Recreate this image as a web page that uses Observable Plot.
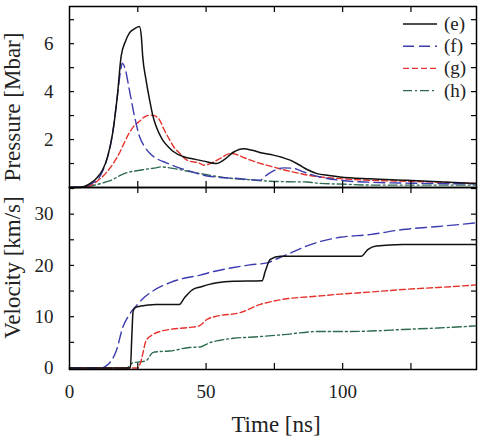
<!DOCTYPE html>
<html>
<head>
<meta charset="utf-8">
<script src="https://cdn.jsdelivr.net/npm/d3@7"></script>
<script src="https://cdn.jsdelivr.net/npm/@observablehq/plot@0.6"></script>
</head>
<body style="margin:0;background:#fff">
<div id="wrap" style="position:relative;width:480px;height:438px;background:#fff;font-family:'Liberation Serif',serif">
  <div id="top" style="position:absolute;left:0;top:0"></div>
  <div id="bot" style="position:absolute;left:0;top:181px"></div>
  <div id="legend" style="position:absolute;left:0;top:0"></div>
</div>
<script>
// ---------- data ----------
const seriesNames = ["(e)", "(f)", "(g)", "(h)"];
const seriesColors = ["#111111", "#3c3cb0", "#e6322b", "#2e6b4e"];
const seriesDash = [null, "11,5", "6,3", "9,3,2,3"];
const seriesWidth = [1.5, 1.4, 1.4, 1.4];

// Pressure [Mbar] vs time [ns]
const pTimeE = [0,3.7,8,10,12.2,14,15.8,17.5,18.9,20.5,21.9,23.5,25.6,26.3,26.8,28,29.3,30.5,31.7,34,36.6,38,41.8,45,49.1,54,56.4,60.1,63.7,67,70,74.6,78,80.8,84,87,90.6,95,99,110,123.5,135,148.9];
const pressE = [0,0,0.2,0.4,0.75,1.3,2.27,3.8,5.47,6.1,6.44,6.6,6.72,6.3,5.47,4.5,3.67,3.0,2.55,2.0,1.65,1.5,1.28,1.2,1.1,1.0,1.14,1.48,1.62,1.55,1.45,1.35,1.25,1.14,0.95,0.75,0.58,0.5,0.44,0.36,0.3,0.24,0.17];
const pTimeF = [0,5,10,12.2,14,15.8,17.5,18.9,19.3,20.5,21.9,23.8,25.6,27.5,29.3,32,35.4,40.2,45,49.1,55,62.5,66.2,69.9,71.1,74,78.4,82,85.6,91.8,99,110,125,148.9];
const pressF = [0,0.05,0.3,0.7,1.3,2.27,3.8,5.0,5.19,4.9,4.08,2.97,2.14,1.7,1.44,1.2,1.03,0.82,0.65,0.51,0.42,0.37,0.33,0.3,0.42,0.65,0.82,0.8,0.65,0.44,0.3,0.22,0.18,0.15];
const pTimeG = [0,5,8,10,13.4,16,18.3,20,21.9,23.5,25.6,27.5,29.6,31,32.9,34.5,36.6,38.2,40.2,43,47.9,49.1,52.8,55,58.9,61,63.8,68,73.5,78,83.3,87,91.8,99,110,123.5,148.9];
const pressG = [0,0.02,0.1,0.25,0.61,1.0,1.44,1.85,2.28,2.55,2.76,2.95,3.02,3.0,2.83,2.45,2.0,1.69,1.44,1.14,1.0,0.93,1.07,1.2,1.42,1.38,1.25,1.07,0.89,0.75,0.61,0.52,0.44,0.37,0.3,0.26,0.17];
const pTimeH = [0,5,10,13,15.8,18,20.7,23.5,26.8,29,31.7,33.3,36.6,40.2,44,47.9,53,60,66,73.5,80,86.9,91.8,100,111,125,148.9];
const pressH = [0,0.02,0.12,0.22,0.33,0.47,0.61,0.68,0.74,0.78,0.82,0.86,0.82,0.75,0.66,0.58,0.48,0.37,0.32,0.26,0.24,0.23,0.17,0.14,0.1,0.1,0.1];

// Velocity [km/s] vs time [ns]
const vTimeE = [0,22.3,22.8,23.3,24.2,26.2,31.6,40.2,42.1,45.1,48,51.2,54,60,70.5,71.7,73.5,77.2,85,99,106.8,109.2,112.3,122,135,148.9];
const velE = [0,0,6,11.1,11.8,12.1,12.4,12.4,13.7,15.3,15.8,16.3,16.6,16.9,17.0,18.9,21.2,21.8,21.8,21.8,21.8,23.1,23.8,24.1,24.1,24.1];
const vTimeF = [0,12,13.4,15,17.1,19.5,21.9,24.4,27,30.5,36.6,42.7,47.9,51.2,60.1,66,72.3,76,79.6,86.9,92,99.1,109.8,122,135,148.9];
const velF = [0,0,0.4,1.2,3.3,7.9,10.4,12.1,13.6,15.0,16.6,17.6,18.1,18.6,19.6,20.1,20.5,21.3,22.1,23.8,24.7,25.5,26.0,27.0,27.6,28.3];
const vTimeG = [0,25,26,26.8,28,30.5,33,36.6,43.9,47.5,50.4,54,62.5,69.9,78.4,90.6,99.1,110,122,135,148.9];
const velG = [0,0,1,2.7,5.3,6.5,7.1,7.5,7.9,8.2,9.5,10.1,10.8,12.4,13.4,14.0,14.4,14.8,15.3,15.7,16.2];
const vTimeH = [0,21,23.2,26,28,30.5,33,36.6,43.9,47.9,51.2,55.2,60,66.2,78.4,90.6,99.1,110,122,135,148.9];
const velH = [0,0,1.0,1.2,1.4,3.0,3.2,3.3,4.0,4.1,4.9,5.4,5.8,6.0,6.5,7.1,7.1,7.2,7.5,7.8,8.2];

const xTickLabels = [0, 50, 100];
const xMinorTicks = [25, 50, 75, 100, 125];
const pTickLabels = [2, 4, 6];
const pMinorTicks = [1, 2, 3, 4, 5, 6, 7];
const vTickLabels = [0, 10, 20, 30];
const vMinorTicks = [5, 10, 15, 20, 25, 30, 35];

// ---------- build ----------
const zip = (ts, vs, s) => ts.map((t, i) => ({t, v: vs[i], s}));
const pressureData = [
  zip(pTimeE, pressE, 0), zip(pTimeF, pressF, 1), zip(pTimeG, pressG, 2), zip(pTimeH, pressH, 3)
];
const velocityData = [
  zip(vTimeE, velE, 0), zip(vTimeF, velF, 1), zip(vTimeG, velG, 2), zip(vTimeH, velH, 3)
];

const W = 480, ML = 69, MR = 4;
const plotW = W - ML - MR;
const FONT = "Liberation Serif, serif";
const tickLen = 5;

function lines(groups) {
  return [3, 2, 1, 0].map(k => Plot.line(groups[k], {
    x: "t", y: "v", stroke: seriesColors[k], strokeWidth: seriesWidth[k],
    strokeDasharray: seriesDash[k], curve: "monotone-x"
  }));
}

function innerTicks(yMinor, plotH) {
  return [
    Plot.tickY(yMinor, {y: d => d, insetRight: plotW - tickLen, stroke: "black", strokeWidth: 1.2}),
    Plot.tickY(yMinor, {y: d => d, insetLeft: plotW - tickLen, stroke: "black", strokeWidth: 1.2}),
    Plot.tickX(xMinorTicks, {x: d => d, insetBottom: plotH - 6, stroke: "black", strokeWidth: 1.2}),
    Plot.tickX(xMinorTicks, {x: d => d, insetTop: plotH - 6, stroke: "black", strokeWidth: 1.2})
  ];
}

const topH = 188, topMT = 6, topMB = 1;
const topPlot = Plot.plot({
  width: W, height: topH,
  marginLeft: ML, marginRight: MR, marginTop: topMT, marginBottom: topMB,
  style: {fontFamily: FONT, fontSize: "19px", background: "transparent", overflow: "visible"},
  x: {domain: [0, 149], axis: null},
  y: {domain: [0, 7.55]},
  marks: [
    ...lines(pressureData),
    ...innerTicks(pMinorTicks, topH - topMT - topMB),
    Plot.axisY(pTickLabels, {tickSize: 0, tickPadding: 16, fontSize: 19, fontFamily: FONT, fill: "#222", label: null}),
    Plot.text(["Pressure [Mbar]"], {text: d => d, frameAnchor: "left", textAnchor: "middle", lineAnchor: "middle", dx: -57, dy: 10, rotate: -90, fontSize: 23, fontFamily: FONT, fill: "#222"}),
    Plot.frame({stroke: "black", strokeWidth: 1.5})
  ]
});
document.getElementById("top").appendChild(topPlot);

const botH = 257, botMT = 6, botMB = 69;
const botPlot = Plot.plot({
  width: W, height: botH,
  marginLeft: ML, marginRight: MR, marginTop: botMT, marginBottom: botMB,
  style: {fontFamily: FONT, fontSize: "19px", background: "transparent", overflow: "visible"},
  x: {domain: [0, 149]},
  y: {domain: [-0.3, 35.2]},
  marks: [
    ...lines(velocityData),
    ...innerTicks(vMinorTicks, botH - botMT - botMB),
    Plot.axisY(vTickLabels, {tickSize: 0, tickPadding: 16, fontSize: 19, fontFamily: FONT, fill: "#222", label: null}),
    Plot.axisX(xTickLabels, {tickSize: 0, tickPadding: 15, fontSize: 19, fontFamily: FONT, fill: "#222", label: null}),
    Plot.text(["Velocity [km/s]"], {text: d => d, frameAnchor: "left", textAnchor: "middle", lineAnchor: "middle", dx: -57, dy: -11, rotate: -90, fontSize: 23, fontFamily: FONT, fill: "#222"}),
    Plot.text(["Time [ns]"], {text: d => d, frameAnchor: "bottom", textAnchor: "middle", lineAnchor: "middle", dx: 3, dy: 55, fontSize: 23, fontFamily: FONT, fill: "#222"}),
    Plot.frame({stroke: "black", strokeWidth: 1.5})
  ]
});
document.getElementById("bot").appendChild(botPlot);

// ---------- legend (inside top panel, upper right) ----------
const leg = d3.select("#legend").append("svg")
  .attr("width", W).attr("height", 110)
  .attr("font-family", FONT)
  .style("overflow", "visible");
seriesNames.forEach((name, k) => {
  const cy = 24 + k * 22.2;
  leg.append("line")
    .attr("x1", 403).attr("x2", 437).attr("y1", cy).attr("y2", cy)
    .attr("stroke", seriesColors[k]).attr("stroke-width", seriesWidth[k])
    .attr("stroke-dasharray", seriesDash[k]);
  leg.append("text")
    .attr("x", 444).attr("y", cy).attr("dy", "0.32em")
    .attr("font-family", FONT).attr("font-size", 19).attr("fill", "#222")
    .text(name);
});
</script>
</body>
</html>
